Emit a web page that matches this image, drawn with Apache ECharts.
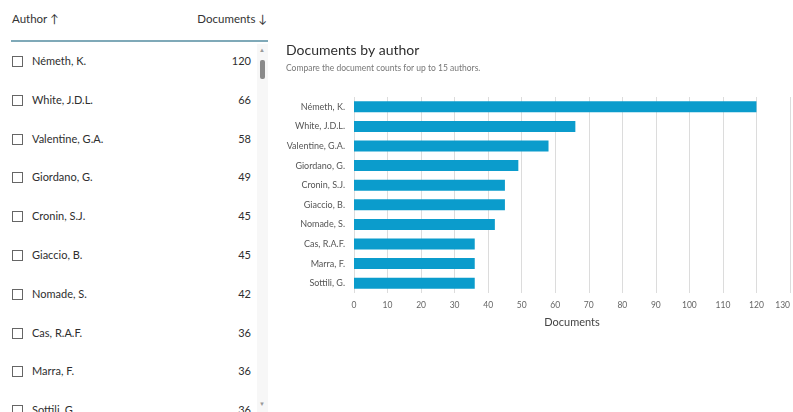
<!DOCTYPE html>
<html>
<head>
<meta charset="utf-8">
<title>Documents by author</title>
<script src="https://cdn.jsdelivr.net/npm/echarts@6/dist/echarts.min.js"></script>
<style>
  body { margin: 0; width: 793px; height: 412px; overflow: hidden; background: #fff; font-family: Lato, "Open Sans", sans-serif; color: #2e2e2e; position: relative; }
  #table { position: absolute; left: 0; top: 0; width: 280px; height: 412px; }
  .hdr { position: absolute; top: 12px; font-size: 11.5px; color: #333; }
  .rule { position: absolute; left: 11px; top: 40px; width: 257px; height: 2px; background: #7fa9b8; }
  .row { position: absolute; left: 0; width: 255px; height: 20px; font-size: 11px; }
  .box { position: absolute; left: 12px; top: 3px; width: 9px; height: 9px; border: 1px solid #666; }
  .name { position: absolute; left: 32px; top: 1px; }
  .val { position: absolute; right: 4px; top: 1px; }
  .track { position: absolute; left: 257px; top: 44px; width: 11px; height: 368px; background: #f7f7f7; }
  .thumb { position: absolute; left: 260px; top: 60px; width: 5px; height: 19px; background: #8a8a8a; border-radius: 2px; }
  .arr { position: absolute; left: 259px; font-size: 6px; color: #999; }
  #echart { position: absolute; left: 280px; top: 0; width: 513px; height: 412px; }
</style>
</head>
<body>
<div id="table">
  <div class="hdr" style="left:12px">Author &#8593;</div>
  <div class="hdr" style="right:13px">Documents &#8595;</div>
  <div class="rule"></div>
  <div class="track"></div>
  <div class="thumb"></div>
  <div class="arr" style="top:46px">&#9650;</div>
  <div class="arr" style="top:400px">&#9660;</div>
</div>
<div id="echart"></div>
<script>
  // authors and their document counts, in list order
  var authors = ['Németh, K.', 'White, J.D.L.', 'Valentine, G.A.', 'Giordano, G.', 'Cronin, S.J.',
                 'Giaccio, B.', 'Nomade, S.', 'Cas, R.A.F.', 'Marra, F.', 'Sottili, G.'];
  var documents = [120, 66, 58, 49, 45, 45, 42, 36, 36, 36];

  // left hand list
  var table = document.getElementById('table');
  authors.forEach(function (a, i) {
    var row = document.createElement('div');
    row.className = 'row';
    row.style.top = (53 + i * 38.8) + 'px';
    row.innerHTML = '<div class="box"></div><div class="name">' + a + '</div><div class="val">' + documents[i] + '</div>';
    table.appendChild(row);
  });

  var mychart = echarts.init(document.getElementById('echart'));
  var option = {
    animation: false,
    title: {
      text: 'Documents by author',
      subtext: 'Compare the document counts for up to 15 authors.',
      left: 1,
      top: 38,
      itemGap: 7,
      textStyle: { fontFamily: 'Lato', fontSize: 14, fontWeight: 'normal', color: '#2e2e2e' },
      subtextStyle: { fontFamily: 'Lato', fontSize: 8.5, color: '#777' }
    },
    grid: { left: 74, right: 1, top: 97, height: 196 },
    xAxis: {
      type: 'value',
      min: 0,
      max: 130,
      interval: 10,
      name: 'Documents',
      nameLocation: 'middle',
      nameGap: 24,
      nameTextStyle: { fontFamily: 'Lato', fontSize: 11, color: '#444' },
      axisLine: { show: false },
      axisTick: { show: false },
      axisLabel: { fontFamily: 'Lato', fontSize: 8.5, color: '#666', margin: 8, alignMaxLabel: 'right' },
      splitLine: { lineStyle: { color: '#dcdcdc' } }
    },
    yAxis: {
      type: 'category',
      inverse: true,
      data: authors,
      axisLine: { show: false },
      axisTick: { show: false },
      axisLabel: { fontFamily: 'Lato', fontSize: 9, color: '#555', margin: 9 }
    },
    series: [{
      type: 'bar',
      data: documents,
      barWidth: 11,
      itemStyle: { color: '#0b9ccc' }
    }]
  };
  mychart.setOption(option);
</script>
</body>
</html>
